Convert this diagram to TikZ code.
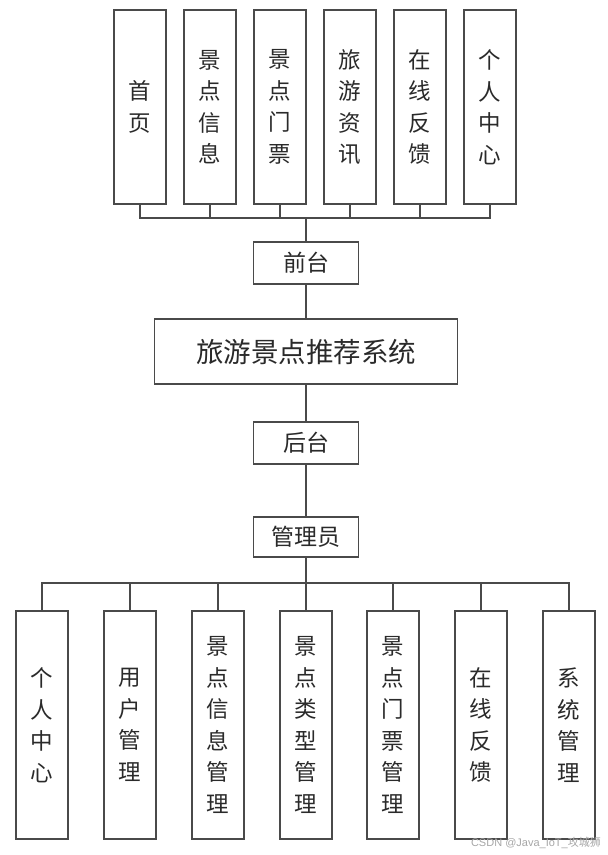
\documentclass[tikz,border=0pt]{standalone}
\usepackage{fontspec}
\newfontfamily\cjk{Noto Sans CJK SC}
\setsansfont{Liberation Sans}
\definecolor{lc}{HTML}{4A4A4A}
\definecolor{tc}{HTML}{2A2A2A}
\begin{document}
\begin{tikzpicture}[x=1pt,y=-1pt,
  box/.style={draw=lc,line width=1.5pt,fill=white,inner sep=0pt,text=tc,align=center},
  vbox/.style={box,minimum width=52pt,font=\cjk\fontsize{22.5}{31.5}\selectfont},
  hbox/.style={box,minimum width=105pt,font=\cjk\fontsize{23}{26}\selectfont},
  link/.style={draw=lc,line width=1.4pt}]
\useasboundingbox (0,0) rectangle (608,855);
% top modules
\foreach \n/\t [count=\k from 0] in {t1/{首\\页},t2/{景\\点\\信\\息},t3/{景\\点\\门\\票},t4/{旅\\游\\资\\讯},t5/{在\\线\\反\\馈},t6/{个\\人\\中\\心}}
  \node[vbox,minimum height=194pt] (\n) at ({140+70*\k},107) {\t};
\node[hbox,minimum height=42pt] (qt) at (306,263) {前台};
\node[box,minimum width=303pt,minimum height=65pt,font=\cjk\fontsize{27.5}{30}\selectfont] (sys) at (306,351.5) {旅游景点推荐系统};
\node[hbox,minimum height=42pt] (ht) at (306,443) {后台};
\node[hbox,minimum height=40pt] (gly) at (306,537) {管理员};
% bottom modules
\foreach \n/\t/\x in {b1/{个\\人\\中\\心}/42,b2/{用\\户\\管\\理}/130,b3/{景\\点\\信\\息\\管\\理}/218,b4/{景\\点\\类\\型\\管\\理}/306,b5/{景\\点\\门\\票\\管\\理}/393,b6/{在\\线\\反\\馈}/481,b7/{系\\统\\管\\理}/569}
  \node[vbox,minimum height=228pt] (\n) at (\x,725) {\t};
\coordinate (tbus) at (306,218);
\coordinate (bbus) at (306,583);
% top connectors
\draw[link] (t1.south) -- (t1.south|-tbus) -- (t6.south|-tbus) -- (t6.south);
\foreach \n in {t2,t3,t4,t5} \draw[link] (\n.south) -- (\n.south|-tbus);
\draw[link,line width=2pt] (tbus) -- (qt.north);
\draw[link] (qt.south) -- (sys.north);
\draw[link] (sys.south) -- (ht.north);
\draw[link] (ht.south) -- (gly.north);
% bottom connectors
\draw[link,line width=2pt] (gly.south) -- (bbus);
\draw[link] (b1.north) -- (b1.north|-bbus) -- (b7.north|-bbus) -- (b7.north);
\foreach \n in {b2,b3,b4,b5,b6} \draw[link] (\n.north) -- (\n.north|-bbus);
% watermark
\node[anchor=east,text=black!35,inner sep=0pt,font=\sffamily\fontsize{11}{11}\selectfont] (wm) at (601,843) {CSDN @Java\_IoT\_{\cjk 攻城狮}};
\end{tikzpicture}
\end{document}
